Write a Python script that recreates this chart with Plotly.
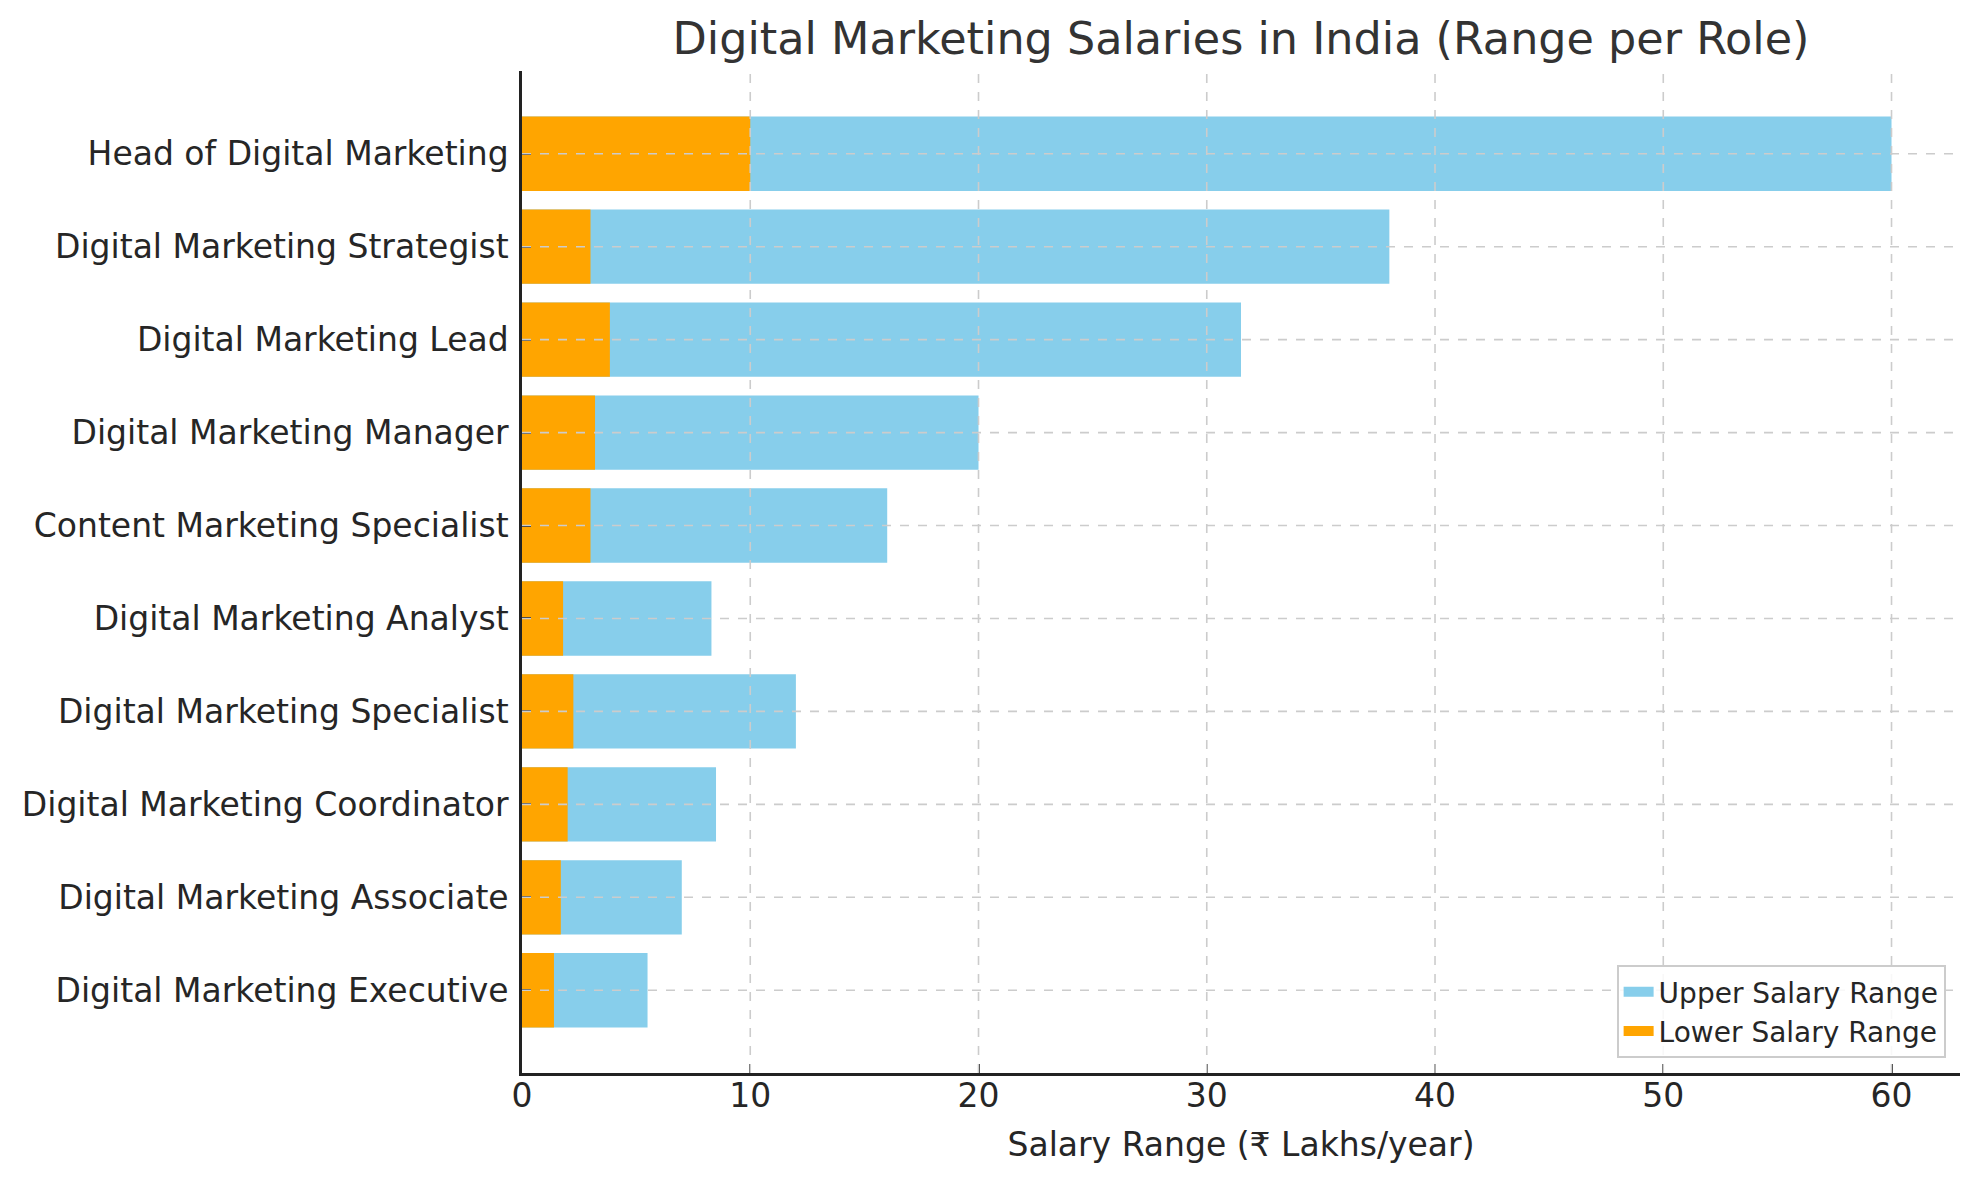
import plotly.graph_objects as go

# roles listed bottom -> top, same order as the source barh call
roles = [
    "Digital Marketing Executive",
    "Digital Marketing Associate",
    "Digital Marketing Coordinator",
    "Digital Marketing Specialist",
    "Digital Marketing Analyst",
    "Content Marketing Specialist",
    "Digital Marketing Manager",
    "Digital Marketing Lead",
    "Digital Marketing Strategist",
    "Head of Digital Marketing",
]
# salary in lakhs/year
lower_salary = [1.4, 1.7, 2.0, 2.25, 1.8, 3.0, 3.2, 3.85, 3.0, 10.0]
upper_salary = [5.5, 7.0, 8.5, 12.0, 8.3, 16.0, 20.0, 31.5, 38.0, 60.0]

x_ticks = [0, 10, 20, 30, 40, 50, 60]

FONT = "DejaVu Sans"
TEXT = "#262626"
GRID = "#cccccc"
BLUE = "#87CEEB"
ORANGE = "#FFA500"

# page body has an 8px margin, so the figure is a bit smaller than the window
W, H = 1971, 1172

fig = go.Figure()

# upper range drawn first, lower range overlaid on top
fig.add_trace(go.Bar(
    y=roles, x=upper_salary, orientation="h", width=0.8, showlegend=False,
    name="Upper Salary Range", marker=dict(color=BLUE, line=dict(width=0)),
))
fig.add_trace(go.Bar(
    y=roles, x=lower_salary, orientation="h", width=0.8, showlegend=False,
    name="Lower Salary Range", marker=dict(color=ORANGE, line=dict(width=0)),
))

# legend-only entries so the swatches are wide patches like matplotlib's
for name, col in [("Upper Salary Range", BLUE), ("Lower Salary Range", ORANGE)]:
    fig.add_trace(go.Scatter(
        x=[None], y=[None], mode="lines", name=name,
        line=dict(color=col, width=19), hoverinfo="skip",
    ))

# dashed grid sits above the bars in the original, so use shapes
for t in x_ticks[1:]:
    fig.add_shape(type="line", xref="x", yref="paper", x0=t, x1=t, y0=0, y1=1,
                  line=dict(color=GRID, width=1.6, dash="dash"), layer="above")
for r in roles:
    fig.add_shape(type="line", xref="paper", yref="y", x0=0, x1=1, y0=r, y1=r,
                  line=dict(color=GRID, width=1.6, dash="dash"), layer="above")

fig.update_layout(
    width=W,
    height=H,
    barmode="overlay",
    paper_bgcolor="white",
    plot_bgcolor="white",
    font=dict(family=FONT, size=33, color=TEXT),
    margin=dict(l=514, r=19, t=63, b=107, autoexpand=False),
    title=dict(
        text="Digital Marketing Salaries in India (Range per Role)",
        x=0.5, xref="paper", xanchor="center",
        y=1 - 30 / H, yref="container", yanchor="middle",
        font=dict(size=44.5, color="#333333"),
    ),
    xaxis=dict(
        range=[0, 63],
        tickvals=x_ticks,
        automargin=False,
        showgrid=False,
        zeroline=False,
        showline=True, linecolor="#222222", linewidth=2.5,
        ticks="inside", ticklen=9, tickwidth=2, tickcolor="#222222",
        ticklabelstandoff=-8,
        tickfont=dict(size=33, color=TEXT),
        title=dict(text="Salary Range (₹ Lakhs/year)", font=dict(size=33, color=TEXT), standoff=19),
    ),
    yaxis=dict(
        categoryorder="array",
        categoryarray=roles,
        range=[-0.89, 9.89],
        automargin=False,
        showgrid=False,
        zeroline=False,
        showline=True, linecolor="#222222", linewidth=2.5,
        ticks="inside", ticklen=9, tickwidth=2, tickcolor="#222222",
        ticklabelstandoff=4,
        tickfont=dict(size=33, color=TEXT),
    ),
    legend=dict(
        x=0.99, y=0.015, xanchor="right", yanchor="bottom",
        bgcolor="rgba(255,255,255,0.85)",
        bordercolor="#cccccc", borderwidth=2,
        font=dict(size=28, color=TEXT),
        traceorder="normal",
    ),
)

fig.write_html("out.html")
